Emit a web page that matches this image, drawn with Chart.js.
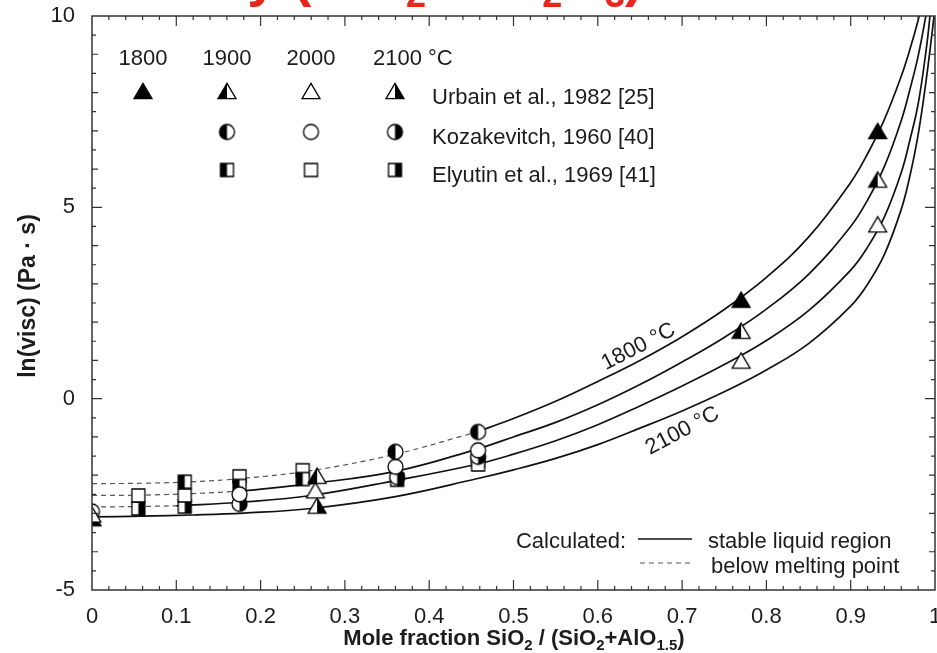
<!DOCTYPE html>
<html>
<head>
<meta charset="utf-8">
<title>Viscosity SiO2-AlO1.5</title>
<script src="https://cdn.jsdelivr.net/npm/chart.js@4.4.0/dist/chart.umd.min.js"></script>
<style>
    html, body { margin: 0; padding: 0; background: #fff; }
    #wrap { width: 937px; height: 653px; }
</style>
</head>
<body>
<div id="wrap"><canvas id="chart" width="937" height="653"></canvas></div>
<script>
// Axis ticks
const xTickValues = [0, 0.1, 0.2, 0.3, 0.4, 0.5, 0.6, 0.7, 0.8, 0.9, 1];
const xTickLabels = ['0', '0.1', '0.2', '0.3', '0.4', '0.5', '0.6', '0.7', '0.8', '0.9', '1'];
const yTickValues = [-5, 0, 5, 10];
const yTickLabels = ['-5', '0', '5', '10'];

const temperatures = ['1800', '1900', '2000', '2100'];
const sources = ['Urbain et al., 1982 [25]', 'Kozakevitch, 1960 [40]', 'Elyutin et al., 1969 [41]'];

// Calculated curves (mole fraction SiO2, ln visc)
const calcX1800 = [0, 0.06, 0.12, 0.18, 0.26, 0.36, 0.455, 0.5, 0.55, 0.6, 0.65, 0.7, 0.75, 0.8, 0.85, 0.9, 0.92, 0.94, 0.96, 0.97, 0.98, 0.99];
const calcY1800 = [-2.22, -2.21, -2.17, -2.08, -1.88, -1.45, -0.88, -0.52, -0.07, 0.45, 1.0, 1.62, 2.33, 3.17, 4.22, 5.65, 6.4, 7.3, 8.43, 9.11, 9.89, 10.8];
const calcX1900 = [0, 0.06, 0.12, 0.18, 0.26, 0.36, 0.455, 0.5, 0.55, 0.6, 0.65, 0.7, 0.75, 0.8, 0.85, 0.9, 0.92, 0.94, 0.96, 0.97, 0.98, 0.99];
const calcY1900 = [-2.53, -2.52, -2.48, -2.41, -2.22, -1.9, -1.33, -1.0, -0.62, -0.16, 0.37, 0.96, 1.6, 2.34, 3.25, 4.5, 5.19, 6.07, 7.27, 8.06, 8.95, 10.1];
const calcX2000 = [0, 0.05, 0.1, 0.18, 0.26, 0.36, 0.455, 0.5, 0.55, 0.6, 0.65, 0.7, 0.75, 0.8, 0.85, 0.9, 0.92, 0.94, 0.96, 0.97, 0.98, 0.99, 0.995];
const calcY2000 = [-2.83, -2.82, -2.8, -2.7, -2.53, -2.14, -1.72, -1.45, -1.1, -0.68, -0.19, 0.33, 0.89, 1.52, 2.3, 3.36, 3.96, 4.75, 5.91, 6.74, 7.7, 9.2, 10.2];
const calcX2100 = [0, 0.06, 0.12, 0.18, 0.26, 0.36, 0.455, 0.5, 0.55, 0.6, 0.65, 0.7, 0.75, 0.8, 0.85, 0.9, 0.92, 0.94, 0.96, 0.97, 0.98, 0.99, 1];
const calcY2100 = [-3.09, -3.07, -3.04, -2.99, -2.87, -2.56, -2.1, -1.86, -1.56, -1.2, -0.77, -0.32, 0.18, 0.75, 1.44, 2.42, 2.99, 3.77, 4.95, 5.8, 6.9, 8.4, 10.2];

// calculated curve is "below melting point" (dashed) up to this mole fraction
const meltLimit = [0.455, 0.18, 0.1, 0];

// Measured points [x, y]
const urbain1800 = [[0.77, 2.56], [0.932, 6.97]];
const urbain1900 = [[0.267, -2.04], [0.77, 1.75], [0.932, 5.7]];
const urbain2000 = [[0, -3.05], [0.265, -2.42], [0.77, 0.97], [0.932, 4.53]];
const urbain2100 = [[0, -3.15], [0.267, -2.82]];
const kozak1900 = [[0, -2.95], [0.36, -1.39], [0.458, -0.87]];
const kozak2000 = [[0.175, -2.5], [0.36, -1.78], [0.458, -1.35]];
const kozak2100 = [[0.175, -2.75], [0.362, -2.05], [0.458, -1.52]];
const elyutin1900 = [[0.11, -2.17], [0.175, -2.28], [0.25, -2.1]];
const elyutin2000 = [[0.055, -2.53], [0.11, -2.53], [0.175, -2.03], [0.25, -1.87], [0.458, -1.72]];
const elyutin2100 = [[0.055, -2.87], [0.11, -2.82], [0.362, -2.12], [0.458, -1.62]];

const FONT = '"Liberation Sans", Arial, sans-serif';
const INK = '#1c1c1c';

// marker images: fill = full | left | right | none
function makeMarker(shape, fill) {
    const size = shape === 'triangle' ? 18 : (shape === 'circle' ? 15 : 13);
    const c = document.createElement('canvas');
    c.width = size + 4;
    c.height = size + 4;
    const g = c.getContext('2d');
    const cx = c.width / 2, cy = c.height / 2, r = size / 2;
    const path = () => {
        g.beginPath();
        if (shape === 'triangle') {
            const h = size * 0.85;
            g.moveTo(cx, cy - h / 2 - 1);
            g.lineTo(cx + r, cy + h / 2 - 1);
            g.lineTo(cx - r, cy + h / 2 - 1);
            g.closePath();
        } else if (shape === 'circle') {
            g.arc(cx, cy, r, 0, Math.PI * 2);
        } else {
            g.rect(cx - r, cy - r, size, size);
        }
    };
    g.fillStyle = '#fff';
    path();
    g.fill();
    if (fill !== 'none') {
        g.save();
        g.beginPath();
        if (fill === 'left') g.rect(0, 0, cx, c.height);
        else if (fill === 'right') g.rect(cx, 0, c.width, c.height);
        else g.rect(0, 0, c.width, c.height);
        g.clip();
        g.fillStyle = '#000';
        path();
        g.fill();
        g.restore();
    }
    g.strokeStyle = '#000';
    g.lineWidth = 1.3;
    path();
    g.stroke();
    return c;
}

const fills = ['full', 'left', 'none', 'right'];
const markers = {
    triangle: fills.map(f => makeMarker('triangle', f)),
    circle: fills.map(f => makeMarker('circle', f)),
    square: fills.map(f => makeMarker('square', f))
};

const toXY = pairs => pairs.map(p => ({ x: p[0], y: p[1] }));

function pointSet(pairs, img) {
    return {
        data: toXY(pairs),
        pointStyle: img,
        pointRadius: 8,
        showLine: false
    };
}

function curveSets(xs, ys, limit) {
    const pts = xs.map((x, i) => ({ x: x, y: ys[i] }));
    const sets = [];
    const below = pts.filter(p => p.x <= limit);
    const stable = pts.filter(p => p.x >= limit);
    if (below.length > 1) {
        sets.push({
            data: below, showLine: true, pointRadius: 0, borderColor: '#555',
            borderWidth: 1.2, borderDash: [5, 4], tension: 0.4
        });
    }
    sets.push({
        data: stable, showLine: true, pointRadius: 0, borderColor: '#111',
        borderWidth: 1.7, tension: 0.4
    });
    return sets;
}

const datasets = [
    pointSet(urbain1800, markers.triangle[0]),
    pointSet(urbain1900, markers.triangle[1]),
    pointSet(urbain2000, markers.triangle[2]),
    pointSet(urbain2100, markers.triangle[3]),
    pointSet(kozak1900, markers.circle[1]),
    pointSet(kozak2000, markers.circle[2]),
    pointSet(kozak2100, markers.circle[3]),
    pointSet(elyutin1900, markers.square[1]),
    pointSet(elyutin2000, markers.square[2]),
    pointSet(elyutin2100, markers.square[3]),
    ...curveSets(calcX1800, calcY1800, meltLimit[0]),
    ...curveSets(calcX1900, calcY1900, meltLimit[1]),
    ...curveSets(calcX2000, calcY2000, meltLimit[2]),
    ...curveSets(calcX2100, calcY2100, meltLimit[3])
];

// draw text with subscript parts: [[text, isSub], ...]
function drawRich(ctx, parts, x, y, size, weight, align) {
    const big = weight + ' ' + size + 'px ' + FONT;
    const small = weight + ' ' + Math.round(size * 0.66) + 'px ' + FONT;
    let total = 0;
    parts.forEach(p => { ctx.font = p[1] ? small : big; total += ctx.measureText(p[0]).width; });
    let cx = align === 'center' ? x - total / 2 : x;
    ctx.textAlign = 'left';
    parts.forEach(p => {
        ctx.font = p[1] ? small : big;
        ctx.fillText(p[0], cx, p[1] ? y + size * 0.22 : y);
        cx += ctx.measureText(p[0]).width;
    });
}

// keep the plot box where the reference has it
function noAutoPad(s) {
    s.paddingLeft = 0;
    s.paddingRight = 0;
    s.paddingTop = 0;
    s.paddingBottom = 0;
}

const decorPlugin = {
    id: 'decor',
    afterDraw(chart) {
        const { ctx, chartArea: a, scales: { x, y } } = chart;
        ctx.save();

        // frame with inner ticks
        ctx.strokeStyle = '#333';
        ctx.lineWidth = 1.5;
        ctx.strokeRect(a.left, a.top, a.right - a.left, a.bottom - a.top);
        ctx.lineWidth = 1.2;
        ctx.beginPath();
        for (let i = 1; i < 50; i++) {
            const px = x.getPixelForValue(i * 0.02);
            const len = i % 5 === 0 ? 10 : 4;
            ctx.moveTo(px, a.bottom); ctx.lineTo(px, a.bottom - len);
            ctx.moveTo(px, a.top); ctx.lineTo(px, a.top + len);
        }
        for (let i = 1; i < 30; i++) {
            const v = -5 + i * 0.5;
            const py = y.getPixelForValue(v);
            const len = v % 5 === 0 ? 10 : (Number.isInteger(v) ? 6 : 4);
            ctx.moveTo(a.left, py); ctx.lineTo(a.left + len, py);
            ctx.moveTo(a.right, py); ctx.lineTo(a.right - len, py);
        }
        ctx.stroke();

        ctx.fillStyle = INK;
        ctx.textBaseline = 'alphabetic';

        // symbol legend (top left)
        const colX = [143, 227, 311, 395];
        ctx.font = '22px ' + FONT;
        ctx.textAlign = 'center';
        temperatures.forEach((t, i) => {
            if (i < 3) ctx.fillText(t, colX[i], 65);
        });
        ctx.textAlign = 'left';
        ctx.fillText(temperatures[3] + ' \u00b0C', 373, 65);
        const rowY = [92, 132, 170];
        const rows = [markers.triangle, markers.circle, markers.square];
        rows.forEach((imgs, r) => {
            imgs.forEach((img, c) => {
                if (r > 0 && c === 0) return;
                ctx.drawImage(img, colX[c] - img.width / 2, rowY[r] - img.height / 2);
            });
            ctx.fillText(sources[r], 432, rowY[r] + 12);
        });

        // curve labels
        ctx.font = '22px ' + FONT;
        ctx.textAlign = 'center';
        ctx.save();
        ctx.translate(638, 346);
        ctx.rotate(-27 * Math.PI / 180);
        ctx.fillText('1800 \u00b0C', 0, 7);
        ctx.restore();
        ctx.save();
        ctx.translate(682, 430);
        ctx.rotate(-28 * Math.PI / 180);
        ctx.fillText('2100 \u00b0C', 0, 7);
        ctx.restore();

        // line style legend (bottom right)
        ctx.textAlign = 'right';
        ctx.fillText('Calculated:', 626, 548);
        ctx.textAlign = 'left';
        ctx.fillText('stable liquid region', 708, 548);
        ctx.fillText('below melting point', 711, 573);
        ctx.beginPath();
        ctx.strokeStyle = '#111';
        ctx.lineWidth = 1.7;
        ctx.moveTo(638, 539); ctx.lineTo(692, 539);
        ctx.stroke();
        ctx.beginPath();
        ctx.strokeStyle = '#555';
        ctx.lineWidth = 1.2;
        ctx.setLineDash([5, 4]);
        ctx.moveTo(640, 563); ctx.lineTo(692, 563);
        ctx.stroke();
        ctx.setLineDash([]);

        // axis titles
        drawRich(ctx, [['Mole fraction SiO', false], ['2', true], [' / (SiO', false], ['2', true],
            ['+AlO', false], ['1.5', true], [')', false]], 514, 645, 22, 'bold', 'center');
        ctx.save();
        ctx.translate(35, 296);
        ctx.rotate(-Math.PI / 2);
        ctx.font = 'bold 23px ' + FONT;
        ctx.textAlign = 'center';
        ctx.fillText('ln(visc) (Pa \u00b7 s)', 0, 0);
        ctx.restore();

        // cropped red title above the plot
        ctx.fillStyle = '#e8261c';
        ctx.font = 'bold 55px ' + FONT;
        const lead = ctx.measureText('Viscosity ').width;
        drawRich(ctx, [['Viscosity (SiO', false], ['2', true], [' \u2013 Al', false], ['2', true],
            ['O', false], ['3', true], [')', false]], 293 - lead, -5, 55, 'bold', 'left');

        ctx.restore();
    }
};

new Chart(document.getElementById('chart'), {
    type: 'scatter',
    data: { datasets: datasets },
    options: {
        responsive: false,
        animation: false,
        events: [],
        layout: { padding: { top: 16, right: 2, left: 0, bottom: 0 }, autoPadding: false },
        plugins: { legend: { display: false }, tooltip: { enabled: false } },
        scales: {
            x: {
                type: 'linear',
                min: 0,
                max: 1,
                afterBuildTicks: s => { s.ticks = xTickValues.map(v => ({ value: v })); },
                afterFit: s => { s.height = 63; noAutoPad(s); },
                grid: { display: false },
                border: { display: false },
                ticks: {
                    autoSkip: false,
                    maxRotation: 0,
                    padding: 6,
                    color: INK,
                    font: { family: FONT, size: 22 },
                    callback: v => xTickLabels[xTickValues.indexOf(v)]
                }
            },
            y: {
                type: 'linear',
                min: -5,
                max: 10,
                afterBuildTicks: s => { s.ticks = yTickValues.map(v => ({ value: v })); },
                afterFit: s => { s.width = 92; noAutoPad(s); },
                grid: { display: false },
                border: { display: false },
                ticks: {
                    padding: 9,
                    color: INK,
                    font: { family: FONT, size: 22 },
                    callback: v => yTickLabels[yTickValues.indexOf(v)]
                }
            }
        }
    },
    plugins: [decorPlugin]
});
</script>
</body>
</html>
